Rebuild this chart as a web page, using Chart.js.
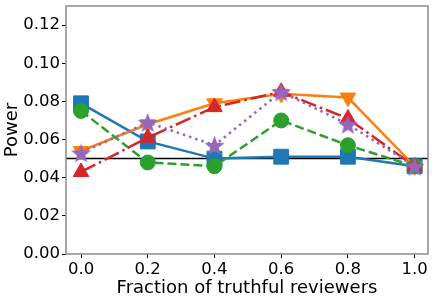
<!DOCTYPE html>
<html>
<head>
<meta charset="utf-8">
<script src="https://cdn.jsdelivr.net/npm/chart.js@4"></script>
<style>
  html, body { margin: 0; padding: 0; background: #fff; }
  #wrap { width: 436px; height: 300px; }
</style>
</head>
<body>
<div id="wrap"><canvas id="chart" width="436" height="300"></canvas></div>
<script>
// values
const fractions = [0.0, 0.2, 0.4, 0.6, 0.8, 1.0];
const blueSquares = [0.079, 0.059, 0.050, 0.051, 0.051, 0.046];
const orangeTriDown = [0.054, 0.068, 0.079, 0.084, 0.082, 0.046];
const greenCircles = [0.075, 0.048, 0.046, 0.070, 0.057, 0.046];
const redTriUp = [0.043, 0.061, 0.077, 0.085, 0.071, 0.046];
const purpleStars = [0.053, 0.069, 0.057, 0.085, 0.068, 0.046];
const refLevel = 0.05;

const xTicks = [0.0, 0.2, 0.4, 0.6, 0.8, 1.0];
const yTicks = [0.00, 0.02, 0.04, 0.06, 0.08, 0.10, 0.12];
const xRange = [-0.045, 1.04];
const yRange = [0, 0.13];

const FONT = 'DejaVu Sans';

const pts = (vals) => vals.map((v, i) => ({ x: fractions[i], y: v }));

// filled 5-point star marker (Chart.js "star" is only an asterisk)
const makeStar = (color, size) => {
  const c = document.createElement('canvas');
  c.width = size;
  c.height = size;
  const ctx = c.getContext('2d');
  const cx = size / 2, cy = size / 2 + size * 0.05;
  const ro = size / 2, ri = ro * 0.42;
  ctx.beginPath();
  for (let i = 0; i < 10; i++) {
    const r = i % 2 === 0 ? ro : ri;
    const a = -Math.PI / 2 + i * Math.PI / 5;
    ctx.lineTo(cx + r * Math.cos(a), cy + r * Math.sin(a));
  }
  ctx.closePath();
  ctx.fillStyle = color;
  ctx.fill();
  return c;
};

// order: higher is drawn first, so the last series ends up on top
const line = (label, vals, color, style, radius, dash, order, extra) => Object.assign({
  label: label,
  data: pts(vals),
  order: order,
  borderColor: color,
  backgroundColor: color,
  borderWidth: 2.5,
  borderDash: dash,
  pointStyle: style,
  pointRadius: radius,
  pointHoverRadius: radius,
  pointBorderWidth: 1,
  pointBorderColor: color,
  pointBackgroundColor: color,
  tension: 0,
  fill: false,
}, extra || {});

const frame = {
  id: 'frame',
  afterDraw(chart) {
    const a = chart.chartArea;
    const ctx = chart.ctx;
    ctx.save();
    ctx.strokeStyle = '#8a8a8a';
    ctx.lineWidth = 1.5;
    ctx.strokeRect(a.left, a.top, a.right - a.left, a.bottom - a.top);
    ctx.restore();
  }
};

new Chart(document.getElementById('chart'), {
  type: 'line',
  data: {
    datasets: [
      {
        label: 'level',
        data: [{ x: xRange[0], y: refLevel }, { x: xRange[1], y: refLevel }],
        order: 10,
        borderColor: '#000',
        borderWidth: 1.5,
        pointRadius: 0,
        pointHoverRadius: 0,
      },
      line('A', blueSquares, '#1f77b4', 'rect', 10.5, [], 5),
      line('B', orangeTriDown, '#ff7f0e', 'triangle', 9, [], 4, { pointRotation: 180 }),
      line('C', greenCircles, '#2ca02c', 'circle', 7.5, [9, 4], 3),
      line('D', redTriUp, '#d62728', 'triangle', 9, [16, 4, 2.5, 4], 2),
      line('E', purpleStars, '#9467bd', makeStar('#9467bd', 21), 10, [2.5, 4], 1),
    ],
  },
  options: {
    responsive: false,
    animation: false,
    layout: { autoPadding: false, padding: { left: 0, right: 8, top: 6, bottom: 0 } },
    plugins: {
      legend: { display: false },
      tooltip: { enabled: false },
    },
    scales: {
      x: {
        type: 'linear',
        min: xRange[0],
        max: xRange[1],
        afterBuildTicks: (axis) => { axis.ticks = xTicks.map((v) => ({ value: v })); },
        afterFit: (axis) => {
          axis.height = 46;
          axis.paddingLeft = 0;
          axis.paddingRight = 0;
        },
        grid: { drawOnChartArea: false, tickLength: 4, tickColor: '#000' },
        border: { display: false },
        ticks: {
          color: '#000',
          font: { family: FONT, size: 16.5 },
          padding: 2,
          maxRotation: 0,
          callback: (v) => v.toFixed(1),
        },
        title: {
          display: true,
          text: 'Fraction of truthful reviewers',
          color: '#000',
          font: { family: FONT, size: 18 },
          padding: { top: 0, bottom: 1 },
        },
      },
      y: {
        min: yRange[0],
        max: yRange[1],
        afterBuildTicks: (axis) => { axis.ticks = yTicks.map((v) => ({ value: v })); },
        afterFit: (axis) => {
          axis.width = 66;
          axis.paddingTop = 0;
          axis.paddingBottom = 0;
        },
        grid: { drawOnChartArea: false, tickLength: 4, tickColor: '#000' },
        border: { display: false },
        ticks: {
          color: '#000',
          font: { family: FONT, size: 16.5 },
          padding: 2,
          callback: (v) => v.toFixed(2),
        },
        title: {
          display: true,
          text: 'Power',
          color: '#000',
          font: { family: FONT, size: 18 },
          padding: { top: 2, bottom: 0 },
        },
      },
    },
  },
  plugins: [frame],
});
</script>
</body>
</html>
